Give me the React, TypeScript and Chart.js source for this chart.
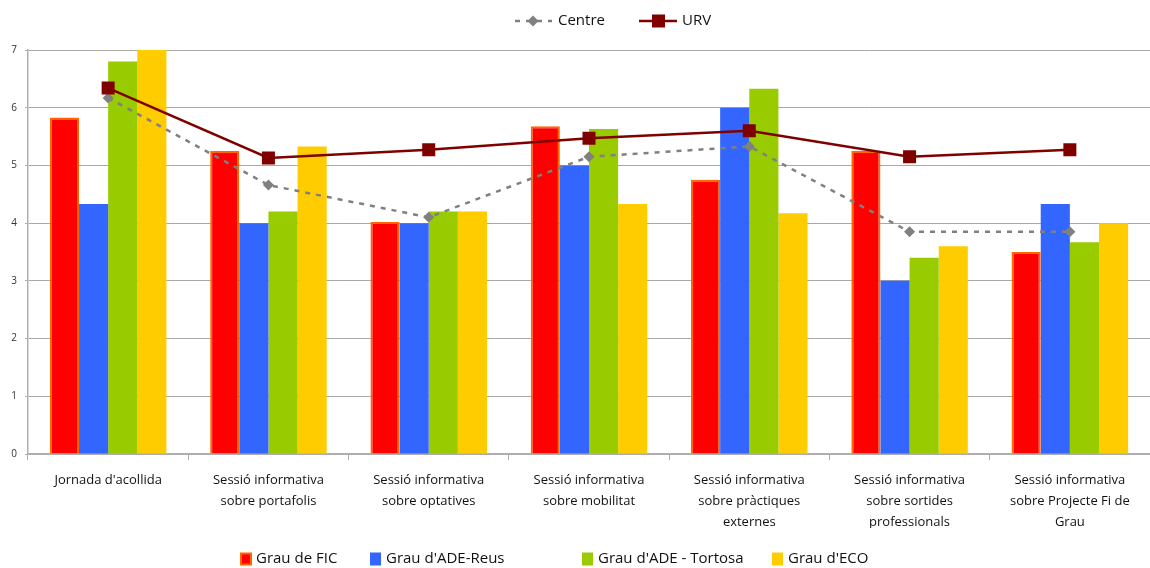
import React, { useEffect, useRef } from 'react';
import { Chart, registerables } from 'chart.js';

Chart.register(...registerables);

const categories: (string | string[])[] = [
  "Jornada d'acollida",
  ['Sessió informativa', 'sobre portafolis'],
  ['Sessió informativa', 'sobre optatives'],
  ['Sessió informativa', 'sobre mobilitat'],
  ['Sessió informativa', 'sobre pràctiques', 'externes'],
  ['Sessió informativa', 'sobre sortides', 'professionals'],
  ['Sessió informativa', 'sobre Projecte Fi de', 'Grau'],
];

const grauFIC = [5.83, 5.25, 4.02, 5.68, 4.75, 5.25, 3.5];
const grauADEReus = [4.33, 4.0, 4.0, 5.0, 6.0, 3.0, 4.33];
const grauADETortosa = [6.8, 4.2, 4.2, 5.63, 6.33, 3.4, 3.67];
const grauECO = [7.0, 5.33, 4.2, 4.33, 4.17, 3.6, 4.0];
const centre = [6.17, 4.66, 4.1, 5.15, 5.33, 3.85, 3.85];
const urv = [6.34, 5.13, 5.27, 5.47, 5.6, 5.15, 5.27];

const yMin = 0;
const yMax = 7;
const yStep = 1;

const FONT = "'Open Sans', 'Noto Sans', sans-serif";

const legendPlugin = {
  id: 'customLegends',
  afterDraw(chart: any) {
    const ctx = chart.ctx as CanvasRenderingContext2D;
    ctx.save();
    ctx.textBaseline = 'middle';
    ctx.textAlign = 'left';
    ctx.font = `15px ${FONT}`;
    ctx.fillStyle = '#111';

    // Top legend (lines)
    const ty = 21;
    ctx.strokeStyle = '#808080';
    ctx.lineWidth = 2.5;
    ctx.setLineDash([5, 6]);
    ctx.beginPath();
    ctx.moveTo(515, ty);
    ctx.lineTo(552, ty);
    ctx.stroke();
    ctx.setLineDash([]);
    ctx.fillStyle = '#808080';
    ctx.beginPath();
    ctx.moveTo(533, ty - 5.5);
    ctx.lineTo(538.5, ty);
    ctx.lineTo(533, ty + 5.5);
    ctx.lineTo(527.5, ty);
    ctx.closePath();
    ctx.fill();
    ctx.fillStyle = '#111';
    ctx.fillText('Centre', 558, ty);

    ctx.strokeStyle = '#800000';
    ctx.lineWidth = 2.5;
    ctx.beginPath();
    ctx.moveTo(639, ty);
    ctx.lineTo(677, ty);
    ctx.stroke();
    ctx.fillStyle = '#800000';
    ctx.fillRect(652, ty - 6.5, 13, 13);
    ctx.fillStyle = '#111';
    ctx.fillText('URV', 682, ty);

    // Bottom legend (bars)
    const by = 559;
    ctx.font = `15px ${FONT}`;
    const items = [
      { x: 240, label: 'Grau de FIC', fill: '#FF0000', border: '#FF6600' },
      { x: 370, label: "Grau d'ADE-Reus", fill: '#3366FF', border: null },
      { x: 582, label: "Grau d'ADE - Tortosa", fill: '#99CC00', border: null },
      { x: 772, label: "Grau d'ECO", fill: '#FFCC00', border: null },
    ];
    for (const it of items) {
      if (it.border) {
        ctx.fillStyle = it.border;
        ctx.fillRect(it.x, by - 6.5, 12, 13);
        ctx.fillStyle = it.fill;
        ctx.fillRect(it.x + 2, by - 4.5, 8, 9);
      } else {
        ctx.fillStyle = it.fill;
        ctx.fillRect(it.x, by - 6.5, 11, 13);
      }
      ctx.fillStyle = '#111';
      ctx.fillText(it.label, it.x + 16, by);
    }
    ctx.restore();
  },
};

export default function App() {
  const ref = useRef<HTMLCanvasElement | null>(null);

  useEffect(() => {
    document.body.style.margin = '0';
    const canvas = ref.current;
    if (!canvas) return;
    const barCommon = {
      type: 'bar' as const,
      borderWidth: 0,
      barPercentage: 1.0,
      categoryPercentage: 0.727,
      order: 2,
    };
    const chart = new Chart(canvas, {
      type: 'bar',
      data: {
        labels: categories,
        datasets: [
          {
            ...barCommon,
            label: 'Grau de FIC',
            data: grauFIC,
            backgroundColor: '#FF0000',
            borderColor: '#FF6600',
            borderWidth: 2,
          },
          { ...barCommon, label: "Grau d'ADE-Reus", data: grauADEReus, backgroundColor: '#3366FF' },
          { ...barCommon, label: "Grau d'ADE - Tortosa", data: grauADETortosa, backgroundColor: '#99CC00' },
          { ...barCommon, label: "Grau d'ECO", data: grauECO, backgroundColor: '#FFCC00' },
          {
            type: 'line',
            label: 'Centre',
            data: centre,
            borderColor: '#808080',
            backgroundColor: '#808080',
            borderWidth: 2.5,
            borderDash: [5, 6],
            pointStyle: 'rectRot',
            pointRadius: 5.5,
            pointBorderWidth: 0,
            pointBackgroundColor: '#808080',
            fill: false,
            tension: 0,
            order: 1,
          } as any,
          {
            type: 'line',
            label: 'URV',
            data: urv,
            borderColor: '#800000',
            backgroundColor: '#800000',
            borderWidth: 2.5,
            pointStyle: 'rect',
            pointRadius: 9.2,
            pointBorderWidth: 0,
            pointBackgroundColor: '#800000',
            fill: false,
            tension: 0,
            order: 0,
          } as any,
        ],
      },
      options: {
        animation: false,
        responsive: false,
        maintainAspectRatio: false,
        layout: { autoPadding: false, padding: { top: 50, left: 0, right: 0, bottom: 40 } },
        plugins: {
          legend: { display: false },
          tooltip: { enabled: false },
          title: { display: false },
        },
        scales: {
          x: {
            offset: true,
            grid: {
              offset: true,
              drawOnChartArea: false,
              tickLength: 6,
              color: '#b0b0b0',
            },
            border: { color: '#b0b0b0', width: 1.5 },
            ticks: {
              maxRotation: 0,
              minRotation: 0,
              autoSkip: false,
              padding: 10,
              color: '#111',
              font: { family: FONT, size: 13, lineHeight: 1.6 },
            },
            afterFit: (scale: any) => {
              scale.height = 74;
              scale.paddingLeft = 0;
              scale.paddingRight = 0;
            },
          },
          y: {
            min: yMin,
            max: yMax,
            ticks: {
              stepSize: yStep,
              color: '#333',
              padding: 8,
              font: { family: FONT, size: 10 },
            },
            grid: { color: '#a8a8a8', lineWidth: 1, tickLength: 3 },
            border: { color: '#b0b0b0', width: 1.5 },
            afterFit: (scale: any) => {
              scale.width = 28;
            },
          },
        },
      },
      plugins: [legendPlugin],
    } as any);
    return () => chart.destroy();
  }, []);

  return (
    <div style={{ width: 1150, height: 568, position: 'relative' }}>
      <canvas ref={ref} width={1150} height={568} style={{ display: 'block', width: 1150, height: 568 }} />
    </div>
  );
}
